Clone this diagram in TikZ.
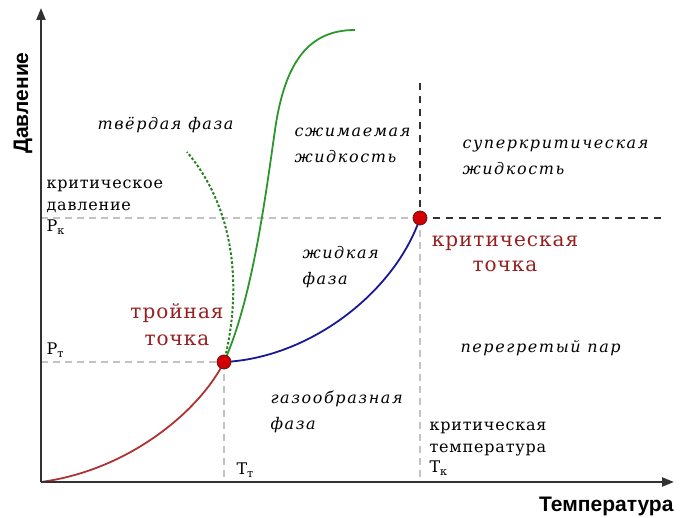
\documentclass[tikz,border=0pt]{standalone}
\usepackage{fontspec}
\setmainfont{DejaVu Serif}
\newfontfamily\plainfont[LetterSpace=5]{DejaVu Serif}
\newfontfamily\phasefont[LetterSpace=10]{DejaVu Serif}
\newfontfamily\axisfont{Liberation Sans}
\usetikzlibrary{arrows.meta}
\definecolor{solidc}{RGB}{44,150,44}
\definecolor{vapourc}{RGB}{25,25,150}
\definecolor{sublc}{RGB}{175,50,50}
\definecolor{pointc}{RGB}{210,0,0}
\definecolor{labelc}{RGB}{150,30,30}
\definecolor{guidec}{RGB}{195,195,195}
\definecolor{axisc}{RGB}{50,50,50}

\begin{document}
\begin{tikzpicture}[x=1pt,y=-1pt,>={Triangle[length=12pt,width=9pt]},
  axis/.style={axisc,line width=2.2pt},
  guide/.style={guidec,line width=1.2pt,dash pattern=on 7pt off 5pt},
  critline/.style={axisc,line width=1.6pt,dash pattern=on 7pt off 6pt},
  phase/.style={font=\phasefont\fontsize{16}{26}\selectfont\itshape,anchor=base west,align=left},
  plain/.style={font=\plainfont\fontsize{16}{22}\selectfont,anchor=base west,align=left},
  axislab/.style={font=\axisfont\bfseries\fontsize{21}{24}\selectfont},
  dotpt/.style={circle,fill=pointc,draw=labelc!70!black,line width=0.8pt,inner sep=0pt,minimum size=14pt}]
\useasboundingbox (0,0) rectangle (681,518);
% key points
\coordinate (O) at (41,482);
\coordinate (triple) at (224,362);
\coordinate (crit) at (420,218);
\coordinate (ytip) at (41,8);
\coordinate (xtip) at (674,482);
% guide lines to the axes
\draw[guide] (O |- crit) -- (crit);
\draw[guide] (O |- triple) -- (triple);
\draw[guide] (triple) -- (triple |- O);
\draw[guide] (crit) -- (crit |- O);
% boundaries of the supercritical region
\draw[critline] (crit) -- (665,218);
\draw[critline] (420,83) -- (crit);
% sublimation, boiling and melting curves
\draw[sublc,line width=1.8pt] (O) .. controls (130,470) and (200,410) .. (triple);
\draw[vapourc,line width=1.8pt] (triple) .. controls (310,358) and (395,292) .. (crit);
\draw[solidc,line width=1.8pt] (triple) .. controls (252,300) and (265,200) .. (275,130)
  .. controls (285,60) and (310,30) .. (355,30);
\draw[solidc!85!black,line width=2pt,dash pattern=on 2.5pt off 2pt] (triple) .. controls (242,290) and (236,210) .. (187,152);
% axes
\draw[axis,->] (O) -- (ytip);
\draw[axis,->] (O) -- (xtip);
\node[axislab,rotate=90,anchor=base] (ylab) at (28,103) {Давление};
\node[axislab,anchor=base east] (xlab) at (677,512) {Температура};
% the two special points
\node[dotpt] (tp) at (triple) {};
\node[dotpt] (cp) at (crit) {};
\node[labelc,font=\plainfont\fontsize{20}{27}\selectfont,align=center,anchor=base] (tplab) at (177,346) {тройная\\точка};
\node[labelc,font=\plainfont\fontsize{20}{25}\selectfont,align=center,anchor=base] (cplab) at (505,272) {критическая\\точка};
% axis marks
\node[plain] (pcrit) at (43,211) {критическое\\давление};
\node[plain] (pk) at (43,232) {P\textsubscript{к}};
\node[plain] (pt) at (43,355) {P\textsubscript{т}};
\node[plain] (tt) at (233,475) {T\textsubscript{т}};
\node[plain] (tcrit) at (426,473) {критическая\\температура\\[-2pt]T\textsubscript{к}};
% phase regions
\node[phase] (solid) at (94,130) {твёрдая фаза};
\node[phase] (compr) at (291,163) {сжимаемая\\жидкость};
\node[phase] (super) at (459,175) {суперкритическая\\жидкость};
\node[phase] (liquid) at (299,285) {жидкая\\фаза};
\node[phase] (steam) at (457,353) {перегретый пар};
\node[phase] (gas) at (267,430) {газообразная\\фаза};
\end{tikzpicture}
\end{document}
